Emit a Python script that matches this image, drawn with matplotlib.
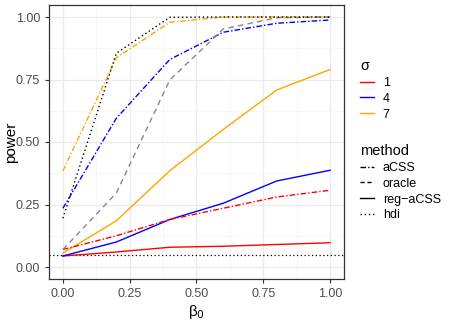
import matplotlib
matplotlib.use("Agg")
import matplotlib.pyplot as plt
from matplotlib.lines import Line2D

plt.rcParams['font.family'] = ['Liberation Sans', 'DejaVu Sans']

beta0 = [0.0, 0.2, 0.4, 0.6, 0.8, 1.0]

# aCSS (dot-dash) per sigma
acss_1 = [0.070, 0.125, 0.190, 0.235, 0.280, 0.307]
acss_4 = [0.235, 0.595, 0.830, 0.939, 0.975, 0.988]
acss_7 = [0.384, 0.837, 0.979, 1.000, 1.000, 1.000]

# reg-aCSS (solid) per sigma
reg_1 = [0.044, 0.060, 0.079, 0.083, 0.090, 0.097]
reg_4 = [0.044, 0.100, 0.190, 0.255, 0.344, 0.387]
reg_7 = [0.055, 0.185, 0.385, 0.550, 0.708, 0.790]

# oracle (grey dashed) and hdi (black dotted)
oracle = [0.070, 0.296, 0.748, 0.952, 0.997, 1.000]
hdi = [0.195, 0.855, 0.999, 1.000, 1.000, 1.000]

alpha_level = 0.05

sigma_cols = {"1": "#FF0000", "4": "#0000FF", "7": "#FFA500"}
dotdash = (0, (4, 1.5, 1, 1.5))

fig = plt.figure(figsize=(4.49, 3.2), dpi=100)
ax = fig.add_axes([49 / 449, 1 - 279 / 320, 295 / 449, 274 / 320])

ax.axhline(alpha_level, color="black", lw=0.9, ls=(0, (1, 2)), zorder=2)

ax.plot(beta0, reg_1, color=sigma_cols["1"], lw=1.0)
ax.plot(beta0, reg_4, color=sigma_cols["4"], lw=1.0)
ax.plot(beta0, reg_7, color=sigma_cols["7"], lw=1.0)
ax.plot(beta0, acss_1, color=sigma_cols["1"], lw=1.0, ls=dotdash)
ax.plot(beta0, acss_4, color=sigma_cols["4"], lw=1.0, ls=dotdash)
ax.plot(beta0, acss_7, color=sigma_cols["7"], lw=1.0, ls=dotdash)
ax.plot(beta0, oracle, color="#888888", lw=1.0, ls=(0, (4, 3)))
ax.plot(beta0, hdi, color="black", lw=1.0, ls=(0, (1, 2)))

ax.set_xlim(-0.052, 1.052)
ax.set_ylim(-0.048, 1.048)
ax.set_xticks([0, 0.25, 0.5, 0.75, 1.0])
ax.set_xticklabels(["0.00", "0.25", "0.50", "0.75", "1.00"])
ax.set_yticks([0, 0.25, 0.5, 0.75, 1.0])
ax.set_yticklabels(["0.00", "0.25", "0.50", "0.75", "1.00"])
ax.set_xticks([0.125, 0.375, 0.625, 0.875], minor=True)
ax.set_yticks([0.125, 0.375, 0.625, 0.875], minor=True)
ax.grid(True, which="major", color="#EBEBEB", lw=0.9)
ax.grid(True, which="minor", color="#F4F4F4", lw=0.5)
ax.set_axisbelow(True)
ax.tick_params(which="major", length=3, color="#333333", labelcolor="#4D4D4D", labelsize=9)
ax.tick_params(which="minor", length=0)
for s in ax.spines.values():
    s.set_color("#333333")
    s.set_linewidth(0.9)

ax.set_xlabel("β$_0$", fontsize=11, labelpad=2)
ax.set_ylabel("power", fontsize=11)
ax.yaxis.set_label_coords(-0.105, 0.5)

sig_handles = [Line2D([], [], color=c, lw=1.0) for c in sigma_cols.values()]
leg1 = fig.legend(sig_handles, list(sigma_cols.keys()), title="σ", loc="upper left",
                  bbox_to_anchor=(349 / 449, 1 - 48 / 320), frameon=False, fontsize=9,
                  title_fontsize=10.5, handlelength=1.1, handletextpad=0.7, labelspacing=0.3)
leg1._legend_box.align = "left"

meth_handles = [Line2D([], [], color="black", lw=1.0, ls=dotdash),
                Line2D([], [], color="black", lw=1.0, ls=(0, (3, 2))),
                Line2D([], [], color="black", lw=1.0),
                Line2D([], [], color="black", lw=1.0, ls=(0, (1, 2)))]
leg2 = fig.legend(meth_handles, ["aCSS", "oracle", "reg\u2212aCSS", "hdi"], title="method",
                  loc="upper left", bbox_to_anchor=(349 / 449, 1 - 133 / 320), frameon=False,
                  fontsize=9, title_fontsize=10.5, handlelength=1.1, handletextpad=0.7,
                  labelspacing=0.3)
leg2._legend_box.align = "left"

fig.savefig("out.png", dpi=100)
